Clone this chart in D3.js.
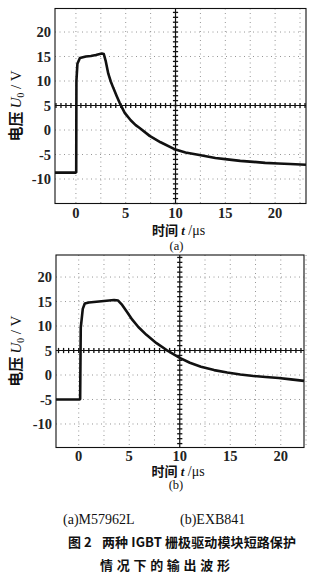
<!DOCTYPE html>
<html><head><meta charset="utf-8">
<script src="https://cdn.jsdelivr.net/npm/d3@7"></script>
<style>
html,body{margin:0;padding:0;background:#fff;}
svg{display:block;}
</style></head>
<body>
<script>
// ---- data ----
const xTickValues = [0, 5, 10, 15, 20];
const yTickValues = [-10, -5, 0, 5, 10, 15, 20];
// (a) M57962L
const tA = [-2.1, -0.02, 0.03, 0.05, 0.15, 0.4, 1.0, 1.5, 2.0, 2.6, 2.8, 3.0, 3.25, 3.5, 3.75, 4.1, 4.4, 4.9, 5.5, 6.0, 6.4, 7.4, 8.5, 10, 11, 12.4, 14, 15.2, 16.5, 17.8, 19, 20.3, 21.5, 23.1];
const vA = [-8.7, -8.7, -8.6, 10.0, 13.5, 14.7, 15.0, 15.1, 15.3, 15.6, 15.5, 14.0, 11.5, 9.9, 8.6, 6.9, 5.5, 3.5, 2.0, 1.0, 0.4, -1.2, -2.5, -4.0, -4.6, -5.1, -5.7, -6.0, -6.3, -6.5, -6.7, -6.85, -6.95, -7.1];
// (b) EXB841
const tB = [-2.25, 0.1, 0.14, 0.2, 0.4, 0.6, 1.0, 2.0, 3.0, 3.5, 3.9, 4.3, 4.8, 5.3, 5.9, 6.7, 7.7, 8.7, 10, 11, 12.1, 13.4, 14.7, 16, 17.3, 18.5, 19.8, 21, 22.3];
const vB = [-5.0, -5.0, -4.9, 9.6, 13.5, 14.6, 14.8, 15.0, 15.2, 15.3, 15.2, 14.3, 12.8, 11.3, 9.8, 8.2, 6.5, 5.1, 3.5, 2.5, 1.7, 1.0, 0.5, 0.1, -0.2, -0.4, -0.6, -0.9, -1.2];
const panelLabels = ["(a)", "(b)"];
const captionLine1 = ["(a)M57962L", "(b)EXB841"];
const captionFig = "图 2";
const captionLine2 = "两种 IGBT 栅极驱动模块短路保护";
const captionLine3 = "情况下的输出波形";

const W = 330, H = 581;
const svg = d3.select("body").append("svg").attr("width", W).attr("height", H);
const serif = "Liberation Serif, DejaVu Serif, serif";
const cjk = "Noto Sans CJK SC, Noto Sans CJK JP, sans-serif";

function panel(cfg) {
  const x = d3.scaleLinear().domain(cfg.xDomain).range([cfg.left, cfg.right]);
  const y = d3.scaleLinear().domain(cfg.yDomain).range([cfg.bottom, cfg.top]);
  const g = svg.append("g");

  // grid (scope graticule, dotted)
  const gx = d3.range(0, 22.6, 2.5).filter(v => v !== 10);
  const gy = d3.range(-10, 25, 5).filter(v => v !== 5);
  g.selectAll(".gx").data(gx).join("line")
    .attr("x1", d => x(d)).attr("x2", d => x(d))
    .attr("y1", cfg.top).attr("y2", cfg.bottom)
    .attr("stroke", "#8a8a8a").attr("stroke-width", 0.9)
    .attr("stroke-dasharray", "1,3.5");
  g.selectAll(".gy").data(gy).join("line")
    .attr("x1", cfg.left).attr("x2", cfg.right)
    .attr("y1", d => y(d)).attr("y2", d => y(d))
    .attr("stroke", "#8a8a8a").attr("stroke-width", 0.9)
    .attr("stroke-dasharray", "1,3.5");

  // centre lines with minor ticks
  const cx = x(10), cy = y(5);
  g.append("line").attr("x1", cfg.left).attr("x2", cfg.right).attr("y1", cy).attr("y2", cy)
    .attr("stroke", "#111").attr("stroke-width", 1.2);
  g.append("line").attr("x1", cx).attr("x2", cx).attr("y1", cfg.top).attr("y2", cfg.bottom)
    .attr("stroke", "#111").attr("stroke-width", 1.2);
  const hx = d3.range(Math.ceil(cfg.xDomain[0] * 2) / 2, cfg.xDomain[1], 0.5);
  g.selectAll(".hx").data(hx).join("line")
    .attr("x1", d => x(d)).attr("x2", d => x(d))
    .attr("y1", cy - 2.6).attr("y2", cy + 2.6)
    .attr("stroke", "#111").attr("stroke-width", 1.3);
  const vy = d3.range(Math.ceil(cfg.yDomain[0]), cfg.yDomain[1], 1);
  g.selectAll(".vy").data(vy).join("line")
    .attr("x1", cx - 2.6).attr("x2", cx + 2.6)
    .attr("y1", d => y(d)).attr("y2", d => y(d))
    .attr("stroke", "#111").attr("stroke-width", 1.3);

  // frame
  g.append("rect").attr("x", cfg.left).attr("y", cfg.top)
    .attr("width", cfg.right - cfg.left).attr("height", cfg.bottom - cfg.top)
    .attr("fill", "none").attr("stroke", "#111").attr("stroke-width", 1.1);

  // waveform
  const pts = cfg.t.map((t, i) => [t, cfg.v[i]]);
  g.append("path").datum(pts)
    .attr("d", d3.line().x(d => x(d[0])).y(d => y(d[1])).curve(d3.curveLinear))
    .attr("fill", "none").attr("stroke", "#111").attr("stroke-width", 2.6)
    .attr("stroke-linejoin", "round");

  // tick labels
  g.selectAll(".yl").data(yTickValues).join("text")
    .attr("x", cfg.left - 4).attr("y", d => y(d)).attr("dy", "0.36em")
    .attr("text-anchor", "end").attr("font-family", serif).attr("font-size", 14.5)
    .attr("font-weight", "bold").attr("fill", "#222")
    .text(d => d < 0 ? "-" + Math.abs(d) : d);
  g.selectAll(".xl").data(xTickValues).join("text")
    .attr("x", d => x(d)).attr("y", cfg.bottom + cfg.tickDy)
    .attr("text-anchor", "middle").attr("font-family", serif).attr("font-size", 14.5)
    .attr("font-weight", "bold").attr("fill", "#222")
    .text(d => d);

  // x title
  const xt = g.append("text").attr("x", (cfg.left + cfg.right) / 2 - 2).attr("y", cfg.bottom + cfg.titleDy)
    .attr("text-anchor", "middle").attr("fill", "#111").attr("font-size", 13);
  xt.append("tspan").attr("font-family", cjk).attr("font-weight", "bold").text("时间");
  xt.append("tspan").attr("font-family", serif).attr("font-style", "italic").attr("font-weight", "bold").text(" t");
  xt.append("tspan").attr("font-family", serif).attr("font-size", 14).text(" /μs");

  // panel label
  g.append("text").attr("x", (cfg.left + cfg.right) / 2 - 4).attr("y", cfg.bottom + cfg.labelDy)
    .attr("text-anchor", "middle").attr("font-family", serif).attr("font-size", 12.5)
    .attr("fill", "#111").text(cfg.label);

  // y title
  const ymid = (cfg.top + cfg.bottom) / 2;
  const yt = g.append("text").attr("transform", `translate(21,${ymid}) rotate(-90)`)
    .attr("text-anchor", "middle").attr("fill", "#111").attr("font-size", 15);
  yt.append("tspan").attr("font-family", cjk).attr("font-weight", "bold").text("电压 ");
  yt.append("tspan").attr("font-family", serif).attr("font-style", "italic").text("U");
  yt.append("tspan").attr("font-family", serif).attr("font-size", 9.5).attr("dy", 3).text("0");
  yt.append("tspan").attr("font-family", serif).attr("dy", -3).text(" / V");
}

panel({ t: tA, v: vA, xDomain: [-2.1, 23.1], yDomain: [-15, 24.8],
  left: 55, right: 306, top: 8.5, bottom: 203.5,
  tickDy: 14, titleDy: 31, labelDy: 46, label: panelLabels[0] });
panel({ t: tB, v: vB, xDomain: [-2.25, 22.3], yDomain: [-14.8, 24.5],
  left: 56, right: 304, top: 255, bottom: 447.5,
  tickDy: 13.5, titleDy: 28, labelDy: 41.5, label: panelLabels[1] });

// caption
svg.append("text").attr("x", 63).attr("y", 524).attr("font-family", serif).attr("font-size", 14)
  .attr("fill", "#111").text(captionLine1[0]);
svg.append("text").attr("x", 180).attr("y", 524).attr("font-family", serif).attr("font-size", 14)
  .attr("fill", "#111").text(captionLine1[1]);
svg.append("text").attr("x", 68).attr("y", 547).attr("font-family", cjk).attr("font-weight", "bold")
  .attr("font-size", 13).attr("fill", "#111").text(captionFig);
svg.append("text").attr("x", 102).attr("y", 547).attr("font-family", cjk).attr("font-weight", "bold")
  .attr("font-size", 13).attr("fill", "#111")
  .attr("textLength", 194).attr("lengthAdjust", "spacing").text(captionLine2);
svg.append("text").attr("x", 100).attr("y", 570).attr("font-family", cjk).attr("font-weight", "bold")
  .attr("font-size", 13).attr("fill", "#111")
  .attr("textLength", 130).attr("lengthAdjust", "spacing").text(captionLine3);
</script>
</body></html>
